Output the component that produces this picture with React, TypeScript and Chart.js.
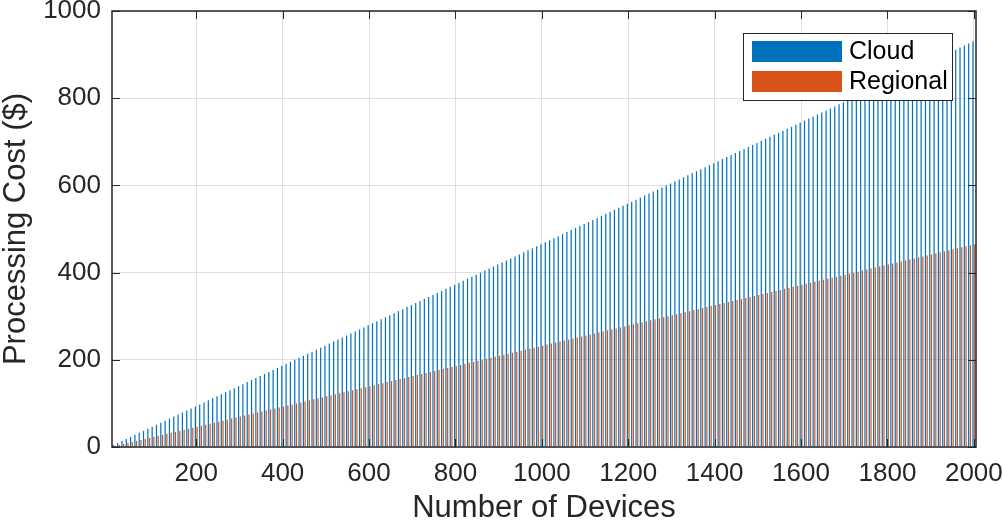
import React, { useEffect, useRef } from "react";
import { Chart, registerables } from "chart.js";

Chart.register(...registerables);

// ---------- data ----------
const devices = [
  10, 20, 30, 40, 50, 60, 70, 80, 90, 100, 110, 120, 130, 140, 150, 160, 170, 180, 190, 200,
  210, 220, 230, 240, 250, 260, 270, 280, 290, 300, 310, 320, 330, 340, 350, 360, 370, 380, 390, 400,
  410, 420, 430, 440, 450, 460, 470, 480, 490, 500, 510, 520, 530, 540, 550, 560, 570, 580, 590, 600,
  610, 620, 630, 640, 650, 660, 670, 680, 690, 700, 710, 720, 730, 740, 750, 760, 770, 780, 790, 800,
  810, 820, 830, 840, 850, 860, 870, 880, 890, 900, 910, 920, 930, 940, 950, 960, 970, 980, 990, 1000,
  1010, 1020, 1030, 1040, 1050, 1060, 1070, 1080, 1090, 1100, 1110, 1120, 1130, 1140, 1150, 1160, 1170, 1180, 1190, 1200,
  1210, 1220, 1230, 1240, 1250, 1260, 1270, 1280, 1290, 1300, 1310, 1320, 1330, 1340, 1350, 1360, 1370, 1380, 1390, 1400,
  1410, 1420, 1430, 1440, 1450, 1460, 1470, 1480, 1490, 1500, 1510, 1520, 1530, 1540, 1550, 1560, 1570, 1580, 1590, 1600,
  1610, 1620, 1630, 1640, 1650, 1660, 1670, 1680, 1690, 1700, 1710, 1720, 1730, 1740, 1750, 1760, 1770, 1780, 1790, 1800,
  1810, 1820, 1830, 1840, 1850, 1860, 1870, 1880, 1890, 1900, 1910, 1920, 1930, 1940, 1950, 1960, 1970, 1980, 1990, 2000,
];

const cloudCost = [
  4.65, 9.3, 13.95, 18.6, 23.25, 27.9, 32.55, 37.2, 41.85, 46.5,
  51.15, 55.8, 60.45, 65.1, 69.75, 74.4, 79.05, 83.7, 88.35, 93,
  97.65, 102.3, 106.95, 111.6, 116.25, 120.9, 125.55, 130.2, 134.85, 139.5,
  144.15, 148.8, 153.45, 158.1, 162.75, 167.4, 172.05, 176.7, 181.35, 186,
  190.65, 195.3, 199.95, 204.6, 209.25, 213.9, 218.55, 223.2, 227.85, 232.5,
  237.15, 241.8, 246.45, 251.1, 255.75, 260.4, 265.05, 269.7, 274.35, 279,
  283.65, 288.3, 292.95, 297.6, 302.25, 306.9, 311.55, 316.2, 320.85, 325.5,
  330.15, 334.8, 339.45, 344.1, 348.75, 353.4, 358.05, 362.7, 367.35, 372,
  376.65, 381.3, 385.95, 390.6, 395.25, 399.9, 404.55, 409.2, 413.85, 418.5,
  423.15, 427.8, 432.45, 437.1, 441.75, 446.4, 451.05, 455.7, 460.35, 465,
  469.65, 474.3, 478.95, 483.6, 488.25, 492.9, 497.55, 502.2, 506.85, 511.5,
  516.15, 520.8, 525.45, 530.1, 534.75, 539.4, 544.05, 548.7, 553.35, 558,
  562.65, 567.3, 571.95, 576.6, 581.25, 585.9, 590.55, 595.2, 599.85, 604.5,
  609.15, 613.8, 618.45, 623.1, 627.75, 632.4, 637.05, 641.7, 646.35, 651,
  655.65, 660.3, 664.95, 669.6, 674.25, 678.9, 683.55, 688.2, 692.85, 697.5,
  702.15, 706.8, 711.45, 716.1, 720.75, 725.4, 730.05, 734.7, 739.35, 744,
  748.65, 753.3, 757.95, 762.6, 767.25, 771.9, 776.55, 781.2, 785.85, 790.5,
  795.15, 799.8, 804.45, 809.1, 813.75, 818.4, 823.05, 827.7, 832.35, 837,
  841.65, 846.3, 850.95, 855.6, 860.25, 864.9, 869.55, 874.2, 878.85, 883.5,
  888.15, 892.8, 897.45, 902.1, 906.75, 911.4, 916.05, 920.7, 925.35, 930,
];

const regionalCost = [
  2.325, 4.65, 6.975, 9.3, 11.625, 13.95, 16.275, 18.6, 20.925, 23.25,
  25.575, 27.9, 30.225, 32.55, 34.875, 37.2, 39.525, 41.85, 44.175, 46.5,
  48.825, 51.15, 53.475, 55.8, 58.125, 60.45, 62.775, 65.1, 67.425, 69.75,
  72.075, 74.4, 76.725, 79.05, 81.375, 83.7, 86.025, 88.35, 90.675, 93,
  95.325, 97.65, 99.975, 102.3, 104.625, 106.95, 109.275, 111.6, 113.925, 116.25,
  118.575, 120.9, 123.225, 125.55, 127.875, 130.2, 132.525, 134.85, 137.175, 139.5,
  141.825, 144.15, 146.475, 148.8, 151.125, 153.45, 155.775, 158.1, 160.425, 162.75,
  165.075, 167.4, 169.725, 172.05, 174.375, 176.7, 179.025, 181.35, 183.675, 186,
  188.325, 190.65, 192.975, 195.3, 197.625, 199.95, 202.275, 204.6, 206.925, 209.25,
  211.575, 213.9, 216.225, 218.55, 220.875, 223.2, 225.525, 227.85, 230.175, 232.5,
  234.825, 237.15, 239.475, 241.8, 244.125, 246.45, 248.775, 251.1, 253.425, 255.75,
  258.075, 260.4, 262.725, 265.05, 267.375, 269.7, 272.025, 274.35, 276.675, 279,
  281.325, 283.65, 285.975, 288.3, 290.625, 292.95, 295.275, 297.6, 299.925, 302.25,
  304.575, 306.9, 309.225, 311.55, 313.875, 316.2, 318.525, 320.85, 323.175, 325.5,
  327.825, 330.15, 332.475, 334.8, 337.125, 339.45, 341.775, 344.1, 346.425, 348.75,
  351.075, 353.4, 355.725, 358.05, 360.375, 362.7, 365.025, 367.35, 369.675, 372,
  374.325, 376.65, 378.975, 381.3, 383.625, 385.95, 388.275, 390.6, 392.925, 395.25,
  397.575, 399.9, 402.225, 404.55, 406.875, 409.2, 411.525, 413.85, 416.175, 418.5,
  420.825, 423.15, 425.475, 427.8, 430.125, 432.45, 434.775, 437.1, 439.425, 441.75,
  444.075, 446.4, 448.725, 451.05, 453.375, 455.7, 458.025, 460.35, 462.675, 465,
];

const seriesNames = ["Cloud", "Regional"];
const seriesColors = ["#0072BD", "#D95319"];
const xTickValues = [200, 400, 600, 800, 1000, 1200, 1400, 1600, 1800, 2000];
const yTickValues = [0, 200, 400, 600, 800, 1000];
const xTitle = "Number of Devices";
const yTitle = "Processing Cost ($)";

// ---------- style ----------
const FONT = "'Liberation Sans', Arial, Helvetica, sans-serif";
const INK = "#262626";
const GRID = "#dfdfdf";

const framePlugin = {
  id: "matlabFrame",
  afterDraw(chart: any) {
    const { ctx, chartArea: a, scales } = chart;
    ctx.save();
    // inward tick marks on all four sides
    const L = 8;
    ctx.strokeStyle = INK;
    ctx.lineWidth = 1;
    ctx.beginPath();
    for (const v of xTickValues) {
      const px = Math.round(scales.x.getPixelForValue(v)) + 0.5;
      ctx.moveTo(px, a.bottom);
      ctx.lineTo(px, a.bottom - L);
      ctx.moveTo(px, a.top);
      ctx.lineTo(px, a.top + L);
    }
    for (const v of yTickValues) {
      const py = Math.round(scales.y.getPixelForValue(v)) + 0.5;
      ctx.moveTo(a.left, py);
      ctx.lineTo(a.left + L, py);
      ctx.moveTo(a.right, py);
      ctx.lineTo(a.right - L, py);
    }
    ctx.stroke();
    // box
    ctx.lineWidth = 1.5;
    ctx.strokeRect(a.left, a.top, a.right - a.left, a.bottom - a.top);

    // legend box (inside, top right)
    const bw = 209;
    const bh = 67;
    const bx = a.right - 24 - bw;
    const by = a.top + 22;
    ctx.fillStyle = "#ffffff";
    ctx.fillRect(bx, by, bw, bh);
    ctx.lineWidth = 1;
    ctx.strokeStyle = INK;
    ctx.strokeRect(bx + 0.5, by + 0.5, bw, bh);
    ctx.font = `25px ${FONT}`;
    ctx.textBaseline = "middle";
    ctx.textAlign = "left";
    chart.data.datasets.forEach((ds: any, i: number) => {
      const ry = by + 8 + i * 30;
      ctx.fillStyle = ds.backgroundColor;
      ctx.fillRect(bx + 9, ry, 90, 21);
      ctx.fillStyle = "#000000";
      ctx.fillText(ds.label, bx + 106, ry + 11);
    });
    ctx.restore();
  },
};

export default function App() {
  const ref = useRef<HTMLCanvasElement | null>(null);

  useEffect(() => {
    if (!ref.current) return;
    const chart = new Chart(ref.current, {
      type: "bar",
      data: {
        datasets: [
          {
            label: seriesNames[0],
            data: devices.map((d, i) => ({ x: d, y: cloudCost[i] })),
            backgroundColor: seriesColors[0],
            borderWidth: 0,
            categoryPercentage: 0.8,
            barPercentage: 0.7,
          },
          {
            label: seriesNames[1],
            data: devices.map((d, i) => ({ x: d, y: regionalCost[i] })),
            backgroundColor: seriesColors[1],
            borderWidth: 0,
            categoryPercentage: 0.8,
            barPercentage: 0.7,
          },
        ],
      },
      options: {
        responsive: false,
        animation: false,
        devicePixelRatio: 1,
        layout: { padding: { left: 0, top: 11, right: 27, bottom: 0 } },
        plugins: {
          legend: { display: false },
          tooltip: { enabled: false },
          title: { display: false },
        },
        scales: {
          x: {
            type: "linear",
            min: 5,
            max: 2005,
            offset: false,
            afterBuildTicks: (s: any) => {
              s.ticks = xTickValues.map((v) => ({ value: v }));
            },
            afterFit: (s: any) => {
              s.height = 77;
              s.paddingLeft = 0;
              s.paddingRight = 0;
              s.paddingTop = 0;
              s.paddingBottom = 0;
            },
            grid: { color: GRID, lineWidth: 1, drawTicks: false, offset: false },
            border: { display: false },
            ticks: {
              color: INK,
              padding: 11,
              maxRotation: 0,
              font: { family: FONT, size: 26 },
              callback: (v: any) => String(v),
            },
            title: {
              display: true,
              text: xTitle,
              color: INK,
              font: { family: FONT, size: 31, lineHeight: 1 },
              padding: { top: 0, bottom: 0 },
            },
          },
          y: {
            type: "linear",
            min: 0,
            max: 1000,
            afterBuildTicks: (s: any) => {
              s.ticks = yTickValues.map((v) => ({ value: v }));
            },
            afterFit: (s: any) => {
              s.width = 112;
              s.paddingLeft = 0;
              s.paddingRight = 0;
              s.paddingTop = 0;
              s.paddingBottom = 0;
            },
            grid: { color: GRID, lineWidth: 1, drawTicks: false },
            border: { display: false },
            ticks: {
              color: INK,
              padding: 11,
              font: { family: FONT, size: 26 },
              callback: (v: any) => String(v),
            },
            title: {
              display: true,
              text: yTitle,
              color: INK,
              font: { family: FONT, size: 31, lineHeight: 1 },
              padding: { top: 1, bottom: 0 },
            },
          },
        },
      },
      plugins: [framePlugin],
    });
    return () => chart.destroy();
  }, []);

  return (
    <div style={{ position: "fixed", left: 0, top: 0, width: 1003, height: 524, background: "#fff" }}>
      <canvas ref={ref} width={1003} height={524} style={{ display: "block" }} />
    </div>
  );
}
